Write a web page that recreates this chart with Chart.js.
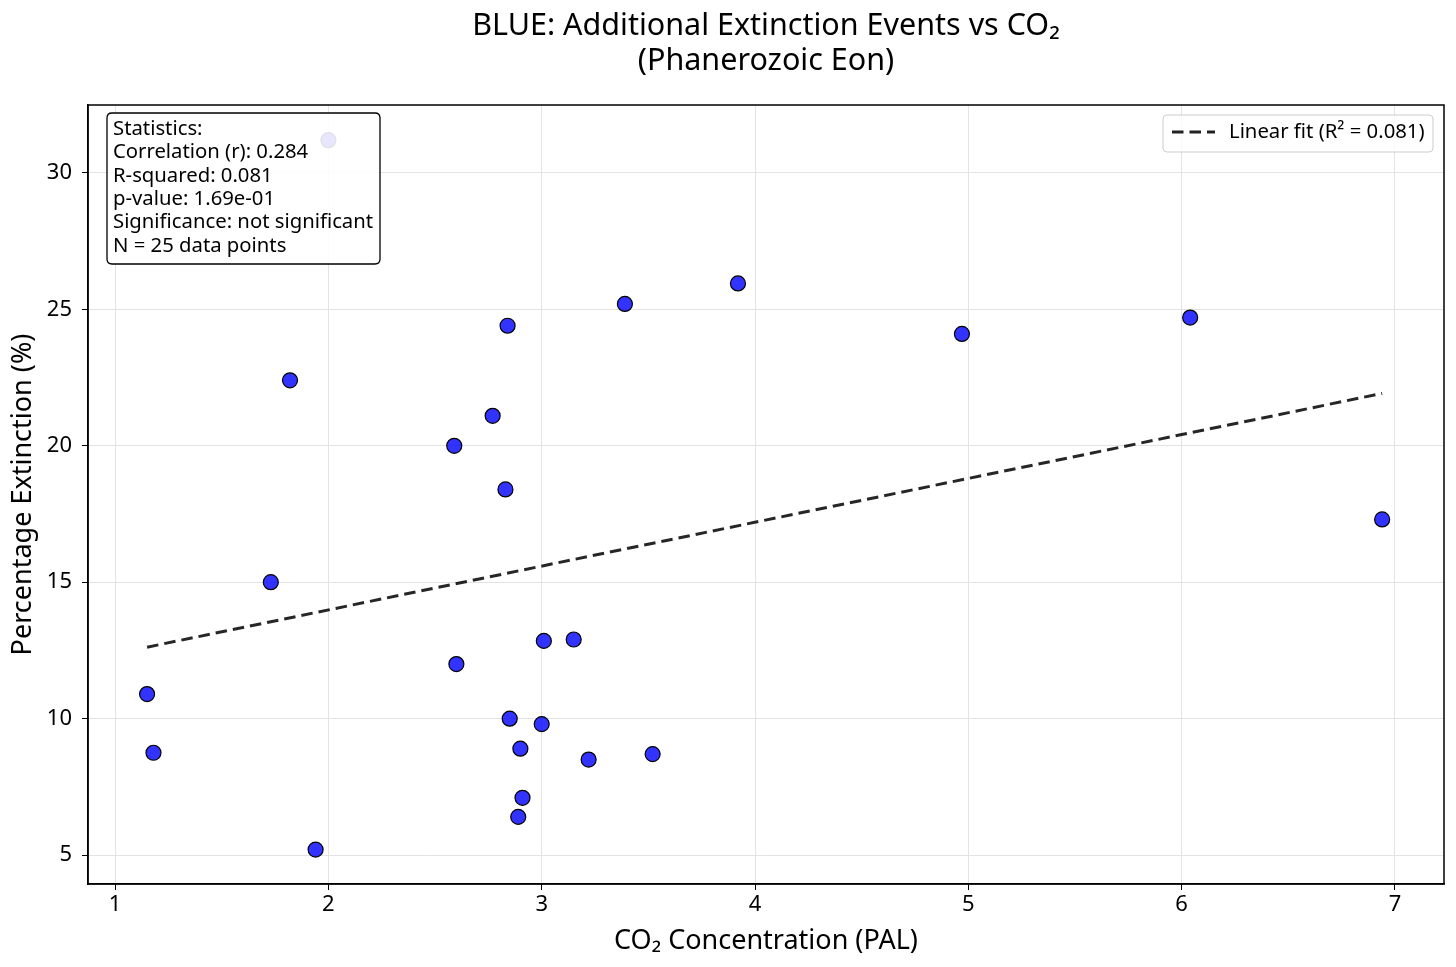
<!DOCTYPE html>
<html>
<head>
<meta charset="utf-8">
<script src="https://cdn.jsdelivr.net/npm/chart.js@4.4.1/dist/chart.umd.min.js"></script>
<style>
  html, body { margin: 0; padding: 0; background: #fff; }
  #wrap { width: 1456px; height: 967px; }
</style>
</head>
<body>
<div id="wrap"><canvas id="grafico"></canvas></div>
<script>
// Dados
const co2 = [1.15, 1.18, 1.73, 1.82, 1.94, 2.00, 2.59, 2.60, 2.77, 2.83, 2.84, 2.85, 2.89,
  2.90, 2.91, 3.00, 3.01, 3.15, 3.22, 3.39, 3.52, 3.92, 4.97, 6.04, 6.94];
const extinction = [10.9, 8.75, 15.0, 22.4, 5.2, 31.2, 20.0, 12.0, 21.1, 18.4, 24.4, 10.0, 6.4,
  8.9, 7.1, 9.8, 12.85, 12.9, 8.5, 25.2, 8.7, 25.95, 24.1, 24.7, 17.3];
const fitX = [1.15, 6.94];
const fitY = [12.62, 21.92];
const xTicks = [1, 2, 3, 4, 5, 6, 7];
const yTicks = [5, 10, 15, 20, 25, 30];
const titleLines = ['BLUE: Additional Extinction Events vs CO\u2082', '(Phanerozoic Eon)'];
const statsLines = [
  'Statistics:',
  'Correlation (r): 0.284',
  'R-squared: 0.081',
  'p-value: 1.69e-01',
  'Significance: not significant',
  'N = 25 data points'
];
const fitLabel = 'Linear fit (R\u00b2 = 0.081)';

const fonte = '"Noto Sans", "Open Sans", "DejaVu Sans", sans-serif';
Chart.defaults.font.family = fonte;
Chart.defaults.color = '#000';

function caixaArredondada(ctx, x, y, w, h, r) {
  ctx.beginPath();
  ctx.moveTo(x + r, y);
  ctx.lineTo(x + w - r, y);
  ctx.quadraticCurveTo(x + w, y, x + w, y + r);
  ctx.lineTo(x + w, y + h - r);
  ctx.quadraticCurveTo(x + w, y + h, x + w - r, y + h);
  ctx.lineTo(x + r, y + h);
  ctx.quadraticCurveTo(x, y + h, x, y + h - r);
  ctx.lineTo(x, y + r);
  ctx.quadraticCurveTo(x, y, x + r, y);
  ctx.closePath();
}

// Título, moldura, caixa de estatísticas e legenda
const extras = {
  id: 'extras',
  afterDatasetsDraw(chart) {
    const { ctx, chartArea: a } = chart;
    ctx.save();

    ctx.strokeStyle = '#000';
    ctx.lineWidth = 1.5;
    ctx.strokeRect(a.left, a.top, a.right - a.left, a.bottom - a.top);

    // título
    const cx = (a.left + a.right) / 2;
    ctx.fillStyle = '#000';
    ctx.font = '30.5px ' + fonte;
    ctx.textAlign = 'center';
    ctx.textBaseline = 'alphabetic';
    ctx.fillText(titleLines[0], cx, 35);
    ctx.fillText(titleLines[1], cx, 70);

    // estatísticas
    const sx = a.left + 19, sy = a.top + 8;
    caixaArredondada(ctx, sx, sy, 273, 151, 5);
    ctx.fillStyle = 'rgba(255,255,255,0.88)';
    ctx.fill();
    ctx.strokeStyle = '#000';
    ctx.lineWidth = 1.3;
    ctx.stroke();
    ctx.fillStyle = '#000';
    ctx.font = '20.3px ' + fonte;
    ctx.textAlign = 'left';
    ctx.textBaseline = 'middle';
    statsLines.forEach((t, i) => ctx.fillText(t, sx + 6, sy + 16 + i * 23.4));

    // legenda
    const lx = a.right - 281, ly = a.top + 10;
    caixaArredondada(ctx, lx, ly, 270, 37, 4);
    ctx.fillStyle = 'rgba(255,255,255,0.8)';
    ctx.fill();
    ctx.strokeStyle = '#cccccc';
    ctx.lineWidth = 1;
    ctx.stroke();
    ctx.strokeStyle = '#222';
    ctx.lineWidth = 3;
    ctx.setLineDash([11.5, 6]);
    ctx.beginPath();
    ctx.moveTo(lx + 9, ly + 17);
    ctx.lineTo(lx + 52, ly + 17);
    ctx.stroke();
    ctx.setLineDash([]);
    ctx.fillStyle = '#000';
    ctx.fillText(fitLabel, lx + 66, ly + 17);

    ctx.restore();
  }
};

const ctx = document.getElementById('grafico').getContext('2d');

const grafico = new Chart(ctx, {
  type: 'scatter',
  data: {
    datasets: [
      {
        type: 'line',
        label: fitLabel,
        data: fitX.map((x, i) => ({ x: x, y: fitY[i] })),
        borderColor: 'rgba(0,0,0,0.85)',
        borderWidth: 3,
        borderDash: [11.5, 6],
        pointRadius: 0,
        fill: false,
        order: 0
      },
      {
        label: 'Eventos',
        data: co2.map((x, i) => ({ x: x, y: extinction[i] })),
        backgroundColor: 'rgba(0,0,255,0.8)',
        borderColor: '#000',
        borderWidth: 1.2,
        pointRadius: 7.5,
        order: 1
      }
    ]
  },
  options: {
    responsive: true,
    maintainAspectRatio: false,
    animation: false,
    layout: { padding: { top: 105, right: 12, bottom: 0, left: 0 } },
    plugins: {
      legend: { display: false },
      tooltip: { enabled: false },
      title: { display: false }
    },
    scales: {
      x: {
        type: 'linear',
        min: 0.873,
        max: 7.23,
        afterBuildTicks: (s) => { s.ticks = xTicks.map(v => ({ value: v })); },
        afterFit: (s) => { s.height = 83; },
        grid: { color: '#e3e3e3', tickColor: '#000', tickLength: 6, lineWidth: 1 },
        border: { color: '#000', width: 1.5 },
        ticks: { font: { size: 22 }, color: '#000', padding: 2, maxRotation: 0 },
        title: { display: true, text: 'CO\u2082 Concentration (PAL)', font: { size: 27 }, color: '#000', padding: { top: 0, bottom: 9 } }
      },
      y: {
        type: 'linear',
        min: 3.94,
        max: 32.49,
        afterBuildTicks: (s) => { s.ticks = yTicks.map(v => ({ value: v })); },
        afterFit: (s) => { s.width = 88; },
        grid: { color: '#e3e3e3', tickColor: '#000', tickLength: 6, lineWidth: 1 },
        border: { color: '#000', width: 1.5 },
        ticks: { font: { size: 22 }, color: '#000', padding: 10 },
        title: { display: true, text: 'Percentage Extinction (%)', font: { size: 27 }, color: '#000', padding: { top: 7, bottom: 0 } }
      }
    }
  },
  plugins: [extras]
});
</script>
</body>
</html>
